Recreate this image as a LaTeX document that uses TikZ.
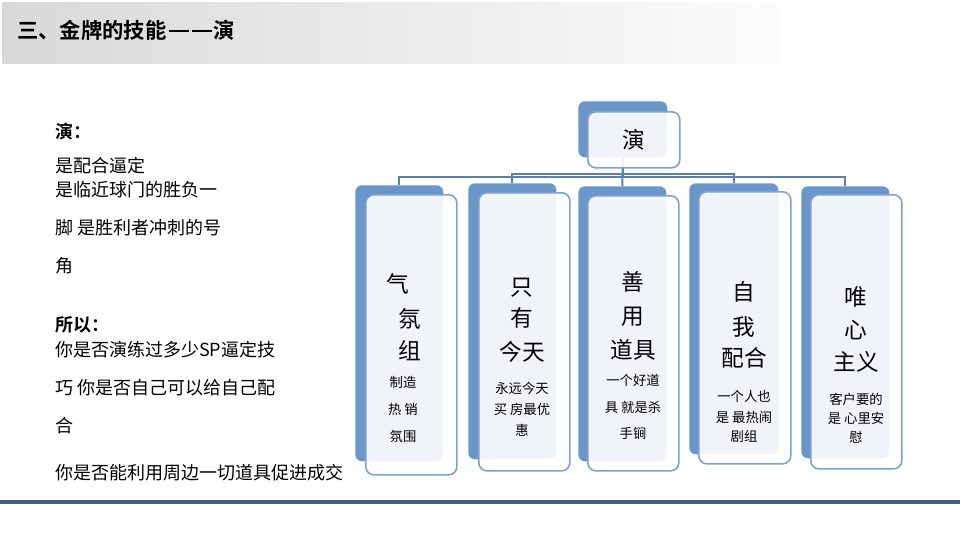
\documentclass[tikz,border=0pt]{standalone}
\usepackage{fontspec}
\setmainfont{Noto Sans CJK SC}[BoldFont={Noto Sans CJK SC Bold}]
\usetikzlibrary{calc}
\definecolor{bkblue}{HTML}{6A96C9}
\definecolor{frline}{HTML}{7BA3D1}
\definecolor{conn}{HTML}{5B80AB}
\definecolor{rulecol}{HTML}{3C5A8A}
\newcommand{\mydash}{\rule[0.3em]{0.95em}{0.1em}}
\tikzset{
 bk/.style={draw=none, fill=bkblue, rounded corners=5pt, inner sep=0, anchor=north west},
 fr/.style={draw=frline, line width=1.2pt, fill=white, fill opacity=0.9, rounded corners=6pt, inner sep=0, anchor=north west},
 big/.style={font=\fontsize{17}{17}\selectfont, inner sep=0},
 small/.style={font=\fontsize{10}{10}\selectfont, inner sep=0},
 lt/.style={font=\fontsize{13.5}{13.5}\selectfont, anchor=west, inner sep=0},
 ltb/.style={lt, font=\bfseries\fontsize{13.5}{13.5}\selectfont},
 cn/.style={draw=conn, line width=1.5pt},
}
\begin{document}
\begin{tikzpicture}[x=0.75pt,y=-0.75pt]
\useasboundingbox (0,0) rectangle (960,540);
% header band
\node[anchor=north west, minimum width=581.25pt, minimum height=45.75pt, inner sep=0,
  left color=black!15, middle color=black!10, right color=black!1] (hdr) at (2,2) {};
\node[anchor=west, font=\bfseries\fontsize{16}{16}\selectfont, inner sep=0] (title) at (17,30) {三、金牌的技能\kern0.1em\mydash\kern0.15em\mydash\kern0.05em 演};
% bottom rule
\coordinate (rl) at (0,502);
\coordinate (rr) at (960,502);
\draw[rulecol, line width=2.3pt] (rl) -- (rr);
% left text
\node[ltb] (l1) at (55,132) {演：};
\node[lt] (l2) at (55,166) {是配合逼定};
\node[lt] (l3) at (55,190) {是临近球门的胜负一};
\node[lt] (l4) at (55,228) {脚 是胜利者冲刺的号};
\node[lt] (l5) at (55,266) {角};
\node[ltb] (l6) at (55,325) {所以：};
\node[lt] (l7) at (55,350) {你是否演练过多少SP逼定技};
\node[lt] (l8) at (55,388) {巧 你是否自己可以给自己配};
\node[lt] (l9) at (55,426) {合};
\node[lt] (l10) at (55,473) {你是否能利用周边一切道具促进成交};
% back shapes
\node[bk, minimum width=66.75pt, minimum height=42pt] (rootbk) at (578,101) {};
\node[bk, minimum width=66pt, minimum height=207pt] (bk1) at (355,185) {};
\node[bk, minimum width=66pt, minimum height=207pt] (bk2) at (468,183) {};
\node[bk, minimum width=66pt, minimum height=206.25pt] (bk3) at (578,186) {};
\node[bk, minimum width=66.75pt, minimum height=203.25pt] (bk4) at (689,183) {};
\node[bk, minimum width=66pt, minimum height=204pt] (bk5) at (801,186) {};
% connectors
\draw[cn] (rootbk.south) -- ++(0,19) -| (bk1.north);
\draw[cn] (rootbk.south) -- ++(0,16) -| (bk2.north);
\draw[cn] (rootbk.south) -- (bk3.north);
\draw[cn] (rootbk.south) -- ++(0,16) -| (bk4.north);
\draw[cn] (rootbk.south) -- ++(0,19) -| (bk5.north);
% front boxes
\node[fr, minimum width=69pt, minimum height=42pt] (rootfr) at (587,111) {};
\node[fr, minimum width=68.25pt, minimum height=210pt] (fr1) at (365,194) {};
\node[fr, minimum width=68.25pt, minimum height=208.5pt] (fr2) at (478,192) {};
\node[fr, minimum width=68.25pt, minimum height=206.25pt] (fr3) at (587,195) {};
\node[fr, minimum width=69pt, minimum height=204pt] (fr4) at (698,191) {};
\node[fr, minimum width=68.25pt, minimum height=205.5pt] (fr5) at (810,194) {};
% root text
\node[big] (rt) at (rootfr.center) {演};
% child 1
\node[big] (c1a) at (398,284) {气};
\node[big] (c1b) at (410,319) {氛};
\node[big] (c1c) at (410,351) {组};
\node[small] (c1d) at (403,382) {制造};
\node[small] (c1e) at (403,409) {热 销};
\node[small] (c1f) at (403,436) {氛围};
% child 2
\node[big] (c2a) at (522,288) {只};
\node[big] (c2b) at (522,318) {有};
\node[big] (c2c) at (522,352) {今天};
\node[small] (c2d) at (522,388) {永远今天};
\node[small] (c2e) at (522,409) {买 房最优};
\node[small] (c2f) at (522,430) {惠};
% child 3
\node[big] (c3a) at (633,282) {善};
\node[big] (c3b) at (633,317) {用};
\node[big] (c3c) at (633,350) {道具};
\node[small] (c3d) at (633,380) {一个好道};
\node[small] (c3e) at (633,407) {具 就是杀};
\node[small] (c3f) at (633,433) {手锏};
% child 4
\node[big] (c4a) at (744,292) {自};
\node[big] (c4b) at (744,327) {我};
\node[big] (c4c) at (744,358) {配合};
\node[small] (c4d) at (744,396) {一个人也};
\node[small] (c4e) at (744,417) {是 最热闹};
\node[small] (c4f) at (744,436) {剧组};
% child 5
\node[big] (c5a) at (856,297) {唯};
\node[big] (c5b) at (856,330) {心};
\node[big] (c5c) at (856,362) {主义};
\node[small] (c5d) at (856,399) {客户要的};
\node[small] (c5e) at (856,418) {是 心里安};
\node[small] (c5f) at (856,437) {慰};
\end{tikzpicture}
\end{document}
